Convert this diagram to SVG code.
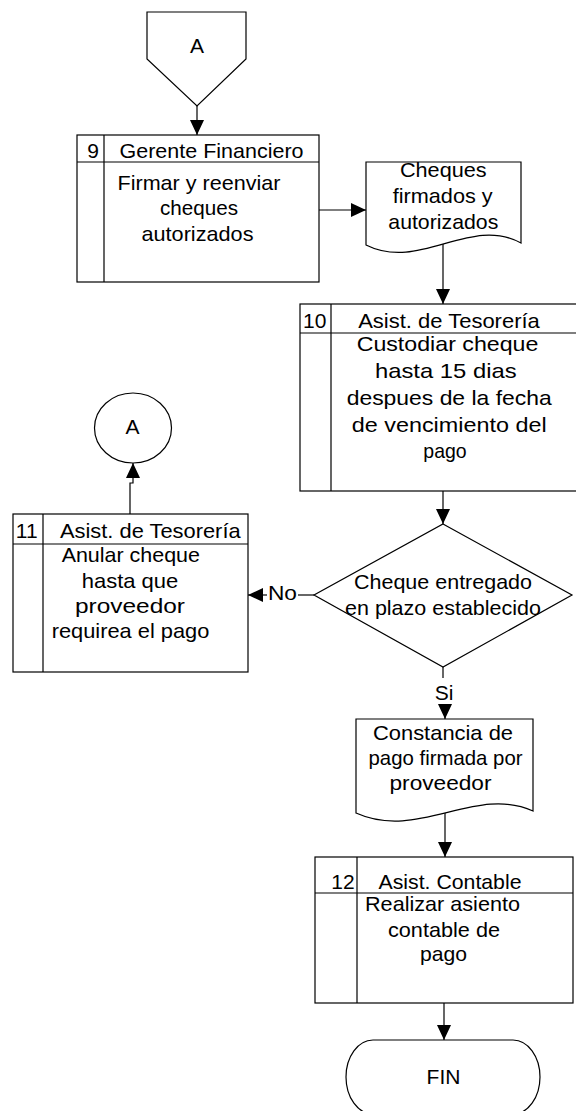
<svg xmlns="http://www.w3.org/2000/svg" width="576" height="1111" viewBox="0 0 576 1111">
<style>
.s{fill:#fff;stroke:#000;stroke-width:1.2}
.l{fill:none;stroke:#000;stroke-width:1.2}
.c{fill:none;stroke:#000;stroke-width:1.2}
text{font-family:"Liberation Sans",Arial,sans-serif;font-size:21px;fill:#000;text-anchor:middle}
</style>
<defs>
<marker id="ah" markerUnits="userSpaceOnUse" markerWidth="16" markerHeight="14" refX="15" refY="7" orient="auto">
<path d="M0,0 L15,7 L0,14 Z" fill="#000"/>
</marker>
</defs>
<rect width="576" height="1111" fill="#fff"/>
<g id="connectors">
<path class="c" d="M197,106 V135" marker-end="url(#ah)"/>
<path class="c" d="M319,210 H366" marker-end="url(#ah)"/>
<path class="c" d="M443,244 V304" marker-end="url(#ah)"/>
<path class="c" d="M443,491 V524" marker-end="url(#ah)"/>
<path class="c" d="M314,595 H298"/>
<path class="c" d="M267,595 H248" marker-end="url(#ah)"/>
<path class="c" d="M130,514 V483 H133 V463" marker-end="url(#ah)"/>
<path class="c" d="M443,667 V678"/>
<path class="c" d="M445,704 V719" marker-end="url(#ah)"/>
<path class="c" d="M445,813 V857" marker-end="url(#ah)"/>
<path class="c" d="M444,1003 V1040" marker-end="url(#ah)"/>
<text x="282.5" y="600" textLength="29" lengthAdjust="spacingAndGlyphs">No</text>
<text x="444" y="699.5">Si</text>
</g>
<g id="offpage-A">
<polygon class="s" points="147,12 246,12 246,59 197,106 147,59"/>
<text x="197" y="53">A</text>
</g>
<g id="step9">
<rect class="s" x="77" y="135" width="242" height="147"/>
<path class="l" d="M77,162 H319 M104,135 V282"/>
<text x="93" y="157.5">9</text>
<text x="211.5" y="157.5" textLength="184" lengthAdjust="spacingAndGlyphs">Gerente Financiero</text>
<text x="199" y="189.5" textLength="163" lengthAdjust="spacingAndGlyphs">Firmar y reenviar</text>
<text x="199" y="215" textLength="78" lengthAdjust="spacingAndGlyphs">cheques</text>
<text x="197.5" y="240.5" textLength="112" lengthAdjust="spacingAndGlyphs">autorizados</text>
</g>
<g id="doc1">
<path class="s" d="M366,162 H521 V243 C470,215 420,272 366,245 Z"/>
<text x="443.3" y="177.3" textLength="86.7" lengthAdjust="spacingAndGlyphs">Cheques</text>
<text x="442.7" y="203.3" textLength="100" lengthAdjust="spacingAndGlyphs">firmados y</text>
<text x="443.3" y="229" textLength="110" lengthAdjust="spacingAndGlyphs">autorizados</text>
</g>
<g id="step10">
<rect class="s" x="300" y="304" width="298" height="187"/>
<path class="l" d="M300,333 H598 M331,304 V491"/>
<text x="314.7" y="327.5">10</text>
<text x="449" y="327.5" textLength="181.7" lengthAdjust="spacingAndGlyphs">Asist. de Tesorería</text>
<text x="447.5" y="351" textLength="181.7" lengthAdjust="spacingAndGlyphs">Custodiar cheque</text>
<text x="445.8" y="378.3" textLength="141.7" lengthAdjust="spacingAndGlyphs">hasta 15 dias</text>
<text x="449.2" y="405" textLength="205" lengthAdjust="spacingAndGlyphs">despues de la fecha</text>
<text x="449.2" y="431.7" textLength="195" lengthAdjust="spacingAndGlyphs">de vencimiento del</text>
<text x="445" y="457.5" textLength="43.3" lengthAdjust="spacingAndGlyphs">pago</text>
</g>
<g id="connector-A">
<ellipse class="s" cx="133" cy="428" rx="38.5" ry="35"/>
<text x="132.5" y="433.5">A</text>
</g>
<g id="step11">
<rect class="s" x="13" y="514" width="235" height="158"/>
<path class="l" d="M13,544 H248 M43,514 V672"/>
<text x="26.7" y="537.5">11</text>
<text x="150.3" y="537.5" textLength="180.7" lengthAdjust="spacingAndGlyphs">Asist. de Tesorería</text>
<text x="130.8" y="561.7" textLength="138.3" lengthAdjust="spacingAndGlyphs">Anular cheque</text>
<text x="130" y="587.5" textLength="96.7" lengthAdjust="spacingAndGlyphs">hasta que</text>
<text x="130" y="613" textLength="110" lengthAdjust="spacingAndGlyphs">proveedor</text>
<text x="130.5" y="638.3" textLength="157.7" lengthAdjust="spacingAndGlyphs">requirea el pago</text>
</g>
<g id="decision">
<polygon class="s" points="443,524 572,595 443,667 314,595"/>
<text x="443" y="589.3" textLength="178" lengthAdjust="spacingAndGlyphs">Cheque entregado</text>
<text x="443" y="615" textLength="196" lengthAdjust="spacingAndGlyphs">en plazo establecido</text>
</g>
<g id="doc2">
<path class="s" d="M356,719 H533 V811 C475,785 418,841 356,813 Z"/>
<text x="443" y="740" textLength="140" lengthAdjust="spacingAndGlyphs">Constancia de</text>
<text x="445.5" y="765" textLength="154" lengthAdjust="spacingAndGlyphs">pago firmada por</text>
<text x="440.5" y="790" textLength="102" lengthAdjust="spacingAndGlyphs">proveedor</text>
</g>
<g id="step12">
<rect class="s" x="315" y="857" width="258" height="146"/>
<path class="l" d="M315,893 H573 M357,857 V1003"/>
<text x="343" y="888.5">12</text>
<text x="450" y="888.5" textLength="143" lengthAdjust="spacingAndGlyphs">Asist. Contable</text>
<text x="442.5" y="911" textLength="155" lengthAdjust="spacingAndGlyphs">Realizar asiento</text>
<text x="444" y="936.7" textLength="112" lengthAdjust="spacingAndGlyphs">contable de</text>
<text x="443.5" y="961" textLength="47" lengthAdjust="spacingAndGlyphs">pago</text>
</g>
<g id="fin">
<path class="s" d="M373,1040 H513 A27,37 0 0 1 513,1114 H373 A27,37 0 0 1 373,1040 Z"/>
<text x="443.5" y="1084">FIN</text>
</g>
</svg>
